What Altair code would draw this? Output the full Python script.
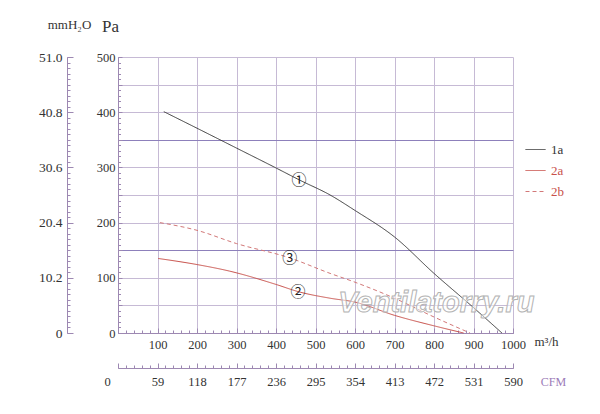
import altair as alt
import pandas as pd

# ---- data ----
series_names = ["1a", "2a", "2b"]
series_colors = ["#3a3a3a", "#c8504a", "#d27878"]

flow_1a = [116, 200, 300, 400, 460, 537, 600, 700, 800, 900, 972]
pa_1a = [401, 371, 335, 299, 277, 250, 222, 174, 108, 46, 0]

flow_2a = [102, 200, 283, 400, 456, 537, 600, 700, 800, 875]
pa_2a = [135, 124, 112, 88, 75, 63, 56, 32, 13, 0]

flow_2b = [106, 200, 300, 435, 537, 600, 700, 800, 891]
pa_2b = [200, 186, 162, 136, 108, 92, 63, 29, 0]

mark_text_labels = ["①", "②", "③"]
mark_flow = [458, 456, 435]
mark_pa = [277, 75, 136]

watermark_text = ["Ventilatorry.ru"]
watermark_flow = [806]
watermark_pa = [54]

flow_major = list(range(100, 1001, 100))
flow_major0 = list(range(0, 1001, 100))
flow_minor = list(range(0, 1001, 20))
pa_grid = list(range(0, 501, 50))
pa_major = list(range(0, 501, 100))
pa_minor = list(range(0, 501, 10))

rows = []
for name, fx, py in [("1a", flow_1a, pa_1a), ("2a", flow_2a, pa_2a), ("2b", flow_2b, pa_2b)]:
    for a, b in zip(fx, py):
        rows.append({"series": name, "flow": a, "pa": b})
df = pd.DataFrame(rows)
df_marks = pd.DataFrame({"label": mark_text_labels, "flow": mark_flow, "pa": mark_pa})
df_wm = pd.DataFrame({"label": watermark_text, "flow": watermark_flow, "pa": watermark_pa})

# ---- style ----
W, H = 395, 276
AX = "#9d88b2"
GRID = "#c6bad5"
GRID_DARK = "#8d80bb"
TXT = "#333333"
FONT = "Liberation Serif"
FS = 12.5

xs = alt.Scale(domain=[0, 1000], nice=False, zero=True)
ys = alt.Scale(domain=[0, 500], nice=False, zero=True)

leg = dict(
    title=None, orient="none", legendX=407, legendY=82, symbolType="stroke",
    symbolSize=400, symbolStrokeWidth=1, rowPadding=3, labelOffset=5,
    labelFont=FONT, labelFontSize=13,
    labelColor={"expr": "datum.label == '1a' ? '#333333' : '#c8504a'"},
)
color = alt.Color("series:N", scale=alt.Scale(domain=series_names, range=series_colors),
                  legend=alt.Legend(**leg))
dash = alt.StrokeDash("series:N", scale=alt.Scale(domain=series_names, range=[[1, 0], [1, 0], [4, 3]]),
                      legend=alt.Legend(**leg))

common_lab = dict(labelFont=FONT, labelFontSize=FS, labelColor=TXT, labelOverlap=False, labelFlush=False)

# main m3/h axis (bottom of plot, ticks inward)
ax_flow = alt.Axis(orient="top", offset=-H, values=flow_major, tickSize=5, tickColor=AX,
                   domainColor=AX, grid=True, gridColor=GRID, labelBaseline="top", labelPadding=-10,
                   labelExpr="format(datum.value, 'd')",
                   title="m³/h", titleX=428, titleY=8, titleAlign="center", titleBaseline="middle",
                   titleFont=FONT, titleFontSize=13, titleFontWeight="normal", titleColor=TXT, **common_lab)
ax_flow_minor = alt.Axis(orient="top", offset=-H, values=flow_minor, tickSize=3, tickColor=AX,
                         domain=False, grid=False, labels=False, title=None)
# CFM axis
ax_cfm = alt.Axis(orient="top", offset=-(H + 35), values=flow_major0, tickSize=5, tickColor=AX,
                  domainColor=AX, grid=False, labelBaseline="top", labelPadding=-12,
                  labelExpr="format(round(datum.value * 0.59), 'd')",
                  labelOffset={"condition": {"test": "datum.value == 0", "value": -11}, "value": 0},
                  title="CFM", titleX=435, titleY=13, titleAlign="center", titleBaseline="middle",
                  titleFont=FONT, titleFontSize=12, titleFontWeight="normal", titleColor="#9b7bb8",
                  **common_lab)
ax_cfm_minor = alt.Axis(orient="top", offset=-(H + 35), values=flow_minor, tickSize=3, tickColor=AX,
                        domain=False, grid=False, labels=False, title=None)
# Pa axis
ax_pa = alt.Axis(orient="right", offset=-W, values=pa_grid, tickSize=4, tickColor=AX, domainColor=AX,
                 grid=True,
                 gridColor={"condition": {"test": "datum.value == 150 || datum.value == 350", "value": GRID_DARK},
                            "value": GRID},
                 labelExpr="datum.value % 100 == 0 ? datum.label : ''",
                 labelAlign="right", labelBaseline="middle", labelPadding=-7,
                 title="Pa", titleAngle=0, titleX=-8, titleY=-31, titleAlign="center", titleBaseline="middle",
                 titleFont=FONT, titleFontSize=17, titleFontWeight="normal", titleColor=TXT, **common_lab)
ax_pa_minor = alt.Axis(orient="right", offset=-W, values=pa_minor, tickSize=2.5, tickColor=AX,
                       domain=False, grid=False, labels=False, title=None)
# mmH2O axis
ax_mm = alt.Axis(orient="right", offset=-(W + 51), values=pa_major, tickSize=6, tickColor=AX, domainColor=AX,
                 grid=False,
                 labelExpr="datum.value == 0 ? '0' : format(datum.value * 0.102, '.1f')",
                 labelAlign="right", labelBaseline="middle", labelPadding=-11,
                 title="mmH₂O", titleAngle=0, titleX=2, titleY=-33, titleAlign="center", titleBaseline="middle",
                 titleFont=FONT, titleFontSize=13, titleFontWeight="normal", titleColor=TXT,
                 labelFont=FONT, labelFontSize=13.5, labelColor=TXT, labelOverlap=False, labelFlush=False)
ax_mm_minor = alt.Axis(orient="right", offset=-(W + 51), values=pa_minor,
                       tickSize=3, tickColor=AX, domain=False, grid=False, labels=False, title=None)

base = alt.Chart(df)

l1 = base.transform_filter("datum.series == '1a'").mark_line(interpolate="monotone", strokeWidth=1).encode(
    x=alt.X("flow:Q", scale=xs, axis=ax_flow),
    y=alt.Y("pa:Q", scale=ys, axis=ax_pa),
    color=color, strokeDash=dash,
)
l2 = base.transform_filter("datum.series == '2a'").mark_line(interpolate="monotone", strokeWidth=1).encode(
    x=alt.X("flow:Q", scale=xs, axis=ax_flow_minor),
    y=alt.Y("pa:Q", scale=ys, axis=ax_pa_minor),
    color=color, strokeDash=dash,
)
l3 = base.transform_filter("datum.series == '2b'").mark_line(interpolate="monotone", strokeWidth=1).encode(
    x=alt.X("flow:Q", scale=xs, axis=ax_cfm),
    y=alt.Y("pa:Q", scale=ys, axis=ax_mm),
    color=color, strokeDash=dash,
)
l4 = alt.Chart(df_marks).mark_text(font="Noto Sans CJK JP", fontSize=15, color="#222222").encode(
    x=alt.X("flow:Q", scale=xs, axis=ax_cfm_minor),
    y=alt.Y("pa:Q", scale=ys, axis=ax_mm_minor),
    text="label:N",
)
l5 = alt.Chart(df_wm).mark_text(font="Liberation Sans", fontStyle="italic", fontWeight="bold", fontSize=29,
                                fill="white", fillOpacity=0.55, stroke="#b3b3b3", strokeWidth=1).encode(
    x=alt.X("flow:Q", scale=xs, axis=None),
    y=alt.Y("pa:Q", scale=ys, axis=None),
    text="label:N",
)

chart = alt.layer(l1, l2, l3, l4, l5).resolve_axis(x="independent", y="independent").properties(
    width=W, height=H, autosize="none",
    padding={"left": 110, "top": 49, "right": 70, "bottom": 80},
    background="white",
).configure_view(stroke=None).configure_axis(labelFont=FONT, titleFont=FONT)

chart.save("out.html", embed_options={"renderer": "svg", "actions": False})
